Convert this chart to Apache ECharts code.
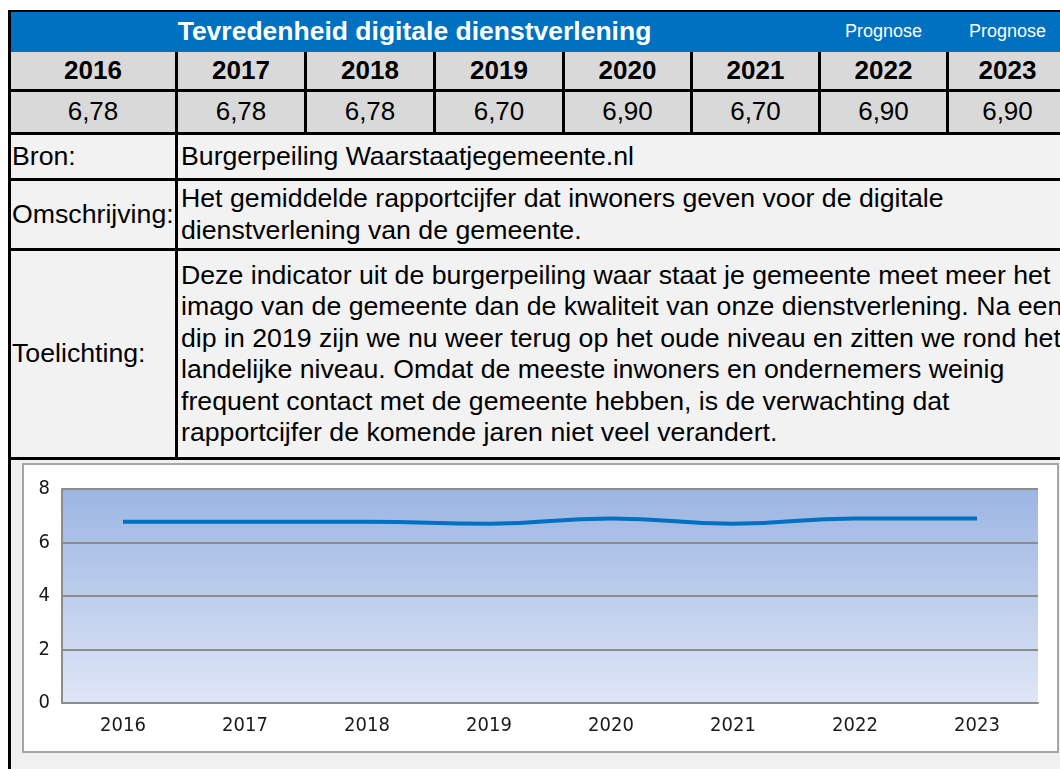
<!DOCTYPE html>
<html>
<head>
<meta charset="utf-8">
<style>
  body { margin: 0; background: #fff; font-family: "Liberation Sans", Arial, sans-serif; }
  #page { position: relative; width: 1060px; height: 769px; overflow: hidden; }
  .abs { position: absolute; box-sizing: border-box; }
  .blk { position: absolute; background: #000; }
  .cell { position: absolute; display: flex; align-items: center; white-space: nowrap; overflow: hidden; font-size: 26.7px; line-height: 31.5px; color: #000; }
  .center { justify-content: center; }
</style>
</head>
<body>
<div id="page"></div>
<script src="https://cdn.jsdelivr.net/npm/echarts@6/dist/echarts.min.js"></script>
<script>
var title = 'Tevredenheid digitale dienstverlening';
var years = ['2016', '2017', '2018', '2019', '2020', '2021', '2022', '2023'];
var scores = [6.78, 6.78, 6.78, 6.70, 6.90, 6.70, 6.90, 6.90];
var forecast = [false, false, false, false, false, false, true, true];
var bron = 'Burgerpeiling Waarstaatjegemeente.nl';
var omschrijving = ['Het gemiddelde rapportcijfer dat inwoners geven voor de digitale',
                    'dienstverlening van de gemeente.'];
var toelichting = ['Deze indicator uit de burgerpeiling waar staat je gemeente meet meer het',
                   'imago van de gemeente dan de kwaliteit van onze dienstverlening. Na een',
                   'dip in 2019 zijn we nu weer terug op het oude niveau en zitten we rond het',
                   'landelijke niveau. Omdat de meeste inwoners en ondernemers weinig',
                   'frequent contact met de gemeente hebben, is de verwachting dat',
                   'rapportcijfer de komende jaren niet veel verandert.'];
var yTicks = [0, 2, 4, 6, 8];

var page = document.getElementById('page');
function box(cls, x, y, w, h, css, html) {
  var d = document.createElement('div');
  d.className = cls;
  d.style.left = x + 'px'; d.style.top = y + 'px';
  d.style.width = w + 'px'; d.style.height = h + 'px';
  if (css) d.style.cssText += css;
  if (html != null) d.innerHTML = html;
  page.appendChild(d);
  return d;
}

// column edges
var colX = [11, 178, 307, 436, 565, 693, 821, 949];
var colEnd = [175, 304, 433, 562, 690, 818, 946, 1066];

// backgrounds
box('abs', 11, 12, 1049, 40, 'background:#0070c0');
box('abs', 11, 52, 1049, 80, 'background:#d9d9d9');
box('abs', 11, 135, 1049, 322, 'background:#f2f2f2');
box('abs', 11, 460, 1049, 309, 'background:#f0f0f0');

// header + year/value rows
box('cell center', 11, 12, 807, 40, 'color:#fff;font-weight:bold;font-size:26.5px;', title);
years.forEach(function (y, i) {
  if (forecast[i]) box('cell center', colX[i], 12, colEnd[i] - colX[i], 40, 'color:#fff;font-size:18px;', 'Prognose');
  box('cell center', colX[i], 52, colEnd[i] - colX[i], 37, 'font-weight:bold;font-size:26px;', y);
  box('cell center', colX[i], 92, colEnd[i] - colX[i], 40, 'font-size:26px;', scores[i].toFixed(2).replace('.', ','));
});

// text rows
box('cell', 12, 135, 163, 43, '', 'Bron:');
box('cell', 181, 135, 879, 43, '', bron);
box('cell', 12, 181, 163, 67, '', 'Omschrijving:');
box('cell', 181, 181, 879, 67, '', '<div>' + omschrijving.join('<br>') + '</div>');
box('cell', 12, 251, 163, 206, '', 'Toelichting:');
box('cell', 181, 251, 879, 206, '', '<div>' + toelichting.join('<br>') + '</div>');

// borders
box('blk', 8, 10, 1052, 2);
box('blk', 8, 10, 3, 759);
box('blk', 11, 89, 1049, 3);
box('blk', 11, 132, 1049, 3);
box('blk', 11, 178, 1049, 3);
box('blk', 11, 248, 1049, 3);
box('blk', 11, 457, 1049, 3);
colEnd.slice(0, 7).forEach(function (x) { box('blk', x, 52, 3, 83); });
box('blk', 175, 135, 3, 322);

// chart
var holder = box('abs', 22, 463, 1037, 290, 'background:#fff;border:2px solid #a6a6a6;');
var inner = box('abs', 0, 0, 1033, 286);
holder.appendChild(inner);
var chart = echarts.init(inner);
var lbl = { fontFamily: '"DejaVu Sans Condensed", "DejaVu Sans", sans-serif', fontSize: 20, color: '#1a1a1a' };
chart.setOption({
  animation: false,
  grid: {
    left: 38, top: 24, right: 19, bottom: 48,
    show: true, borderWidth: 0,
    backgroundColor: new echarts.graphic.LinearGradient(0, 0, 0, 1, [
      { offset: 0, color: '#9bb5e2' },
      { offset: 1, color: '#dfe6f6' }
    ])
  },
  xAxis: {
    type: 'category', data: years, boundaryGap: true,
    axisLine: { lineStyle: { color: '#8c8c8c', width: 2 } },
    axisTick: { show: false },
    axisLabel: Object.assign({ margin: 13 }, lbl)
  },
  yAxis: {
    type: 'value', min: yTicks[0], max: yTicks[yTicks.length - 1], interval: 2,
    axisLine: { show: true, lineStyle: { color: '#8c8c8c', width: 2 } },
    axisTick: { show: false },
    splitLine: { lineStyle: { color: '#8c8c8c', width: 2 } },
    axisLabel: Object.assign({ margin: 12 }, lbl)
  },
  series: [{
    type: 'line', data: scores, smooth: true, symbol: 'none',
    lineStyle: { color: '#0070c0', width: 4 }
  }]
});
</script>
</body>
</html>
